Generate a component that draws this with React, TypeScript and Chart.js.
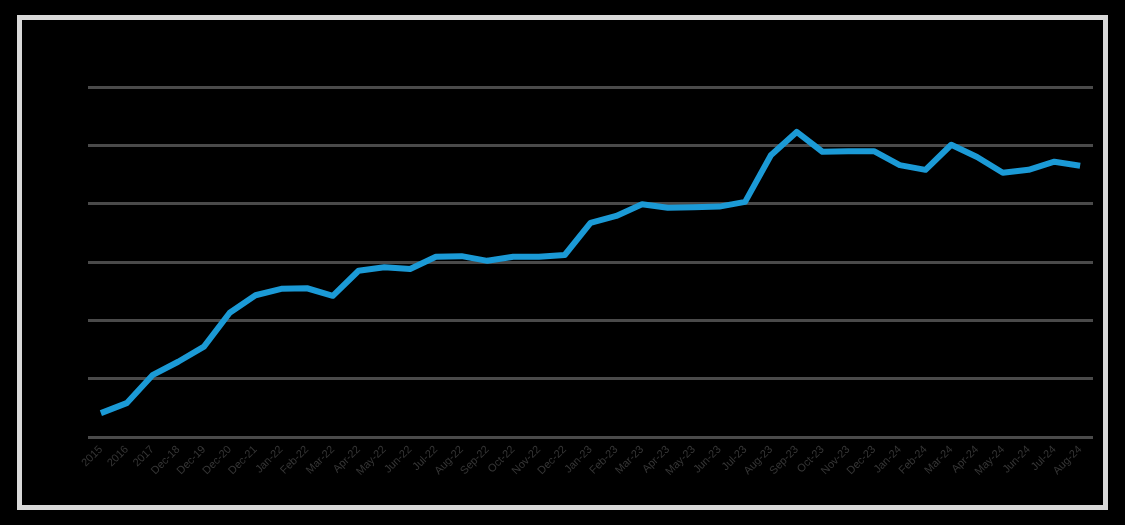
import React, { useEffect, useRef } from "react";
import { Chart, registerables } from "chart.js";

Chart.register(...registerables);

const categories: string[] = [
  "2015", "2016", "2017", "Dec-18", "Dec-19", "Dec-20", "Dec-21",
  "Jan-22", "Feb-22", "Mar-22", "Apr-22", "May-22", "Jun-22", "Jul-22",
  "Aug-22", "Sep-22", "Oct-22", "Nov-22", "Dec-22", "Jan-23", "Feb-23",
  "Mar-23", "Apr-23", "May-23", "Jun-23", "Jul-23", "Aug-23", "Sep-23",
  "Oct-23", "Nov-23", "Dec-23", "Jan-24", "Feb-24", "Mar-24", "Apr-24",
  "May-24", "Jun-24", "Jul-24", "Aug-24",
];

const seriesValues: number[] = [
  4.1, 5.8, 10.6, 12.9, 15.5, 21.3, 24.3,
  25.4, 25.5, 24.2, 28.5, 29.1, 28.8, 30.9,
  31.0, 30.2, 30.9, 30.9, 31.2, 36.7, 37.9,
  39.9, 39.3, 39.4, 39.5, 40.3, 48.3, 52.3,
  48.9, 49.0, 49.0, 46.6, 45.8, 50.1, 48.0,
  45.3, 45.8, 47.2, 46.5,
];

const yMin = 0;
const yMax = 60;
const yStep = 10;

export default function App() {
  const canvasRef = useRef<HTMLCanvasElement | null>(null);

  useEffect(() => {
    document.body.style.margin = "0";
    document.body.style.background = "#000";
    const canvas = canvasRef.current;
    if (!canvas) return;
    const chart = new Chart(canvas, {
      type: "line",
      data: {
        labels: categories,
        datasets: [
          {
            data: seriesValues,
            borderColor: "#1b9ad6",
            borderWidth: 6,
            pointRadius: 0,
            tension: 0,
            fill: false,
            borderJoinStyle: "round",
            borderCapStyle: "butt",
          },
        ],
      },
      options: {
        responsive: false,
        animation: false,
        maintainAspectRatio: false,
        layout: { padding: { left: 88, right: 32, top: 87, bottom: 0 } },
        plugins: {
          legend: { display: false },
          tooltip: { enabled: false },
        },
        scales: {
          x: {
            offset: true,
            grid: { display: false, drawTicks: false },
            border: { display: false },
            ticks: {
              autoSkip: false,
              minRotation: 45,
              maxRotation: 45,
              color: "#363636",
              padding: 6,
              font: { family: "Liberation Sans, Arial, sans-serif", size: 11 },
            },
            afterFit: (scale: any) => {
              scale.height = 88;
            },
          },
          y: {
            min: yMin,
            max: yMax,
            ticks: { display: false, stepSize: yStep },
            grid: { color: "#4a4a4a", lineWidth: 3, drawTicks: false },
            border: { display: false },
            afterFit: (scale: any) => {
              scale.width = 0;
            },
          },
        },
      },
    });
    return () => chart.destroy();
  }, []);

  return (
    <div style={{ position: "relative", width: 1125, height: 525, background: "#000" }}>
      <div
        style={{
          position: "absolute",
          left: 17,
          top: 15,
          width: 1091 - 10,
          height: 495 - 10,
          border: "5px solid #d9d9d9",
          pointerEvents: "none",
        }}
      />
      <canvas
        ref={canvasRef}
        width={1125}
        height={525}
        style={{ position: "absolute", left: 0, top: 0 }}
      />
    </div>
  );
}
